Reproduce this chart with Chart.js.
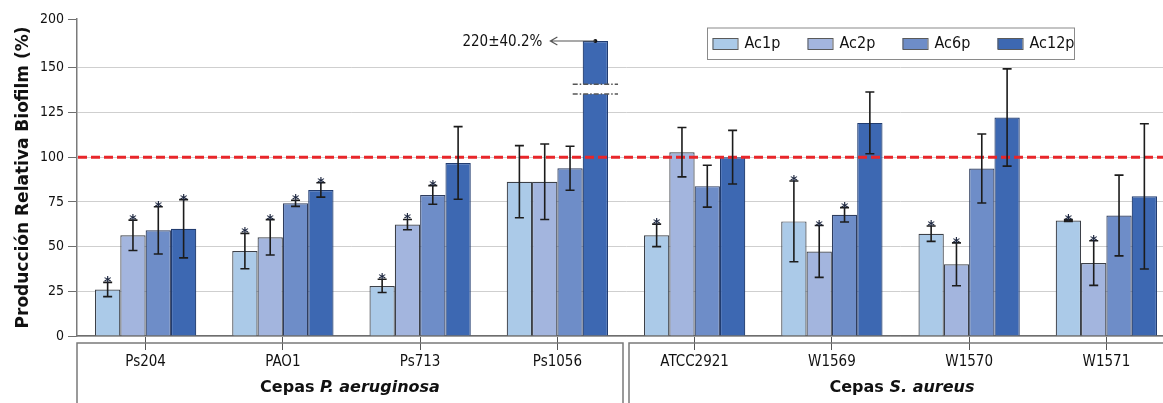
<!DOCTYPE html>
<html>
<head>
<meta charset="utf-8">
<script src="https://cdn.jsdelivr.net/npm/chart.js@4.4.1/dist/chart.umd.min.js"></script>
<style>
  html, body { margin: 0; padding: 0; background: #ffffff; overflow: hidden; }
  #wrap { width: 1190px; height: 403px; }
</style>
</head>
<body>
<div id="wrap"><canvas id="chart" width="1190" height="403"></canvas></div>
<script>
// Strains (x categories)
const categories = ['Ps204', 'PAO1', 'Ps713', 'Ps1056', 'ATCC2921', 'W1569', 'W1570', 'W1571'];

// Relative biofilm production (%) per treatment, with standard deviations
const ac1p     = [26.0, 47.5, 28.0, 86.3, 56.3, 64.1, 57.2, 64.6];
const ac1pErr  = [ 4.0,  9.9,  3.7, 20.2,  6.3, 22.6,  4.3,  0.5];
const ac2p     = [56.3, 55.2, 62.3, 86.3, 102.8, 47.3, 40.1, 40.8];
const ac2pErr  = [ 8.5,  9.9,  2.9, 21.1, 13.8, 14.5, 12.0, 12.5];
const ac6p     = [59.1, 74.2, 78.9, 93.8, 83.8, 67.8, 93.7, 67.4];
const ac6pErr  = [13.2,  1.7,  5.2, 12.3, 11.7,  4.0, 19.3, 22.6];
const ac12p    = [60.0, 81.7, 96.8, 220.0, 100.0, 119.2, 122.2, 78.1];
const ac12pErr = [16.3,  4.0, 20.3, 40.2, 15.0, 17.3, 27.2, 40.6];

// Significance marks (1 = asterisk)
const ac1pSig  = [1, 1, 1, 0, 1, 1, 1, 1];
const ac2pSig  = [1, 1, 1, 0, 0, 1, 1, 1];
const ac6pSig  = [1, 1, 1, 0, 0, 1, 0, 0];
const ac12pSig = [1, 1, 0, 0, 0, 0, 0, 0];

const seriesNames = ['Ac1p', 'Ac2p', 'Ac6p', 'Ac12p'];

// Y axis: linear up to 150, top tick carries the "200" label of the broken axis
const yTickValues = [0, 25, 50, 75, 100, 125, 150];
const yTopShown = 177.3;
const yTopLabel = '200';
const refLevel = 100;

// Bars beyond the axis are cut and drawn up to this height, with a break gap
const brokenBarHeight = 165;
const breakGap = [135.3, 140.8];

// Strain groups on the second axis level
const groupPrefix = ['Cepas ', 'Cepas '];
const groupItalic = ['P. aeruginosa', 'S. aureus'];
const groupFirst  = [0, 4];
const groupLast   = [3, 7];

const values = [ac1p, ac2p, ac6p, ac12p];
const errors = [ac1pErr, ac2pErr, ac6pErr, ac12pErr];
const sigs   = [ac1pSig, ac2pSig, ac6pSig, ac12pSig];

const fills = ['#abcae8', '#a3b5de', '#6e8dc8', '#3d68b2'];
const edges = ['#3c4048', '#3c4048', '#2f3d5e', '#213c70'];

const REG = '"DejaVu Sans Condensed", "DejaVu Sans", sans-serif';
const BOLD = '"DejaVu Sans", sans-serif';

const decor = {
  id: 'decor',
  afterDatasetsDraw(chart) {
    const ctx = chart.ctx;
    const ys = chart.scales.y;
    const area = chart.chartArea;
    ctx.save();

    // broken bars + value annotation
    values.forEach((arr, i) => {
      const meta = chart.getDatasetMeta(i);
      arr.forEach((v, j) => {
        if (v <= yTopShown) return;
        const el = meta.data[j];
        const w = el.width;
        const yA = ys.getPixelForValue(breakGap[1]);
        const yB = ys.getPixelForValue(breakGap[0]);
        ctx.fillStyle = '#ffffff';
        ctx.fillRect(el.x - w / 2 - 1, yA, w + 2, yB - yA);
        ctx.strokeStyle = '#555555';
        ctx.lineWidth = 1.5;
        ctx.setLineDash([5, 2, 1.5, 2]);
        [yA, yB].forEach(yy => {
          ctx.beginPath();
          ctx.moveTo(el.x - w / 2 - 10, yy);
          ctx.lineTo(el.x + w / 2 + 10, yy);
          ctx.stroke();
        });
        ctx.setLineDash([]);

        // pointer to the true value
        const top = el.y;
        ctx.fillStyle = '#111111';
        ctx.beginPath();
        ctx.arc(el.x, top, 2, 0, Math.PI * 2);
        ctx.fill();
        const tipX = el.x - 45;
        ctx.strokeStyle = '#555555';
        ctx.lineWidth = 1.2;
        ctx.beginPath();
        ctx.moveTo(el.x, top);
        ctx.lineTo(tipX, top);
        ctx.moveTo(tipX + 7, top - 4);
        ctx.lineTo(tipX, top);
        ctx.lineTo(tipX + 7, top + 4);
        ctx.stroke();
        ctx.font = '15px ' + REG;
        ctx.textAlign = 'right';
        ctx.textBaseline = 'middle';
        ctx.fillStyle = '#111111';
        ctx.fillText(v + '\u00b1' + errors[i][j].toFixed(1) + '%', tipX - 8, top + 1);
      });
    });

    // reference line at 100 %
    const yRef = ys.getPixelForValue(refLevel);
    ctx.strokeStyle = '#e8262a';
    ctx.lineWidth = 3;
    ctx.setLineDash([9, 4]);
    ctx.beginPath();
    ctx.moveTo(area.left + 1, yRef);
    ctx.lineTo(area.right, yRef);
    ctx.stroke();
    ctx.setLineDash([]);

    // error bars and significance marks
    values.forEach((arr, i) => {
      const meta = chart.getDatasetMeta(i);
      arr.forEach((v, j) => {
        if (v > yTopShown) return;
        const el = meta.data[j];
        const e = errors[i][j];
        const yHi = ys.getPixelForValue(v + e);
        const yLo = ys.getPixelForValue(v - e);
        ctx.strokeStyle = '#1c1c1c';
        ctx.lineWidth = 1.6;
        ctx.beginPath();
        ctx.moveTo(el.x, yHi);
        ctx.lineTo(el.x, yLo);
        ctx.moveTo(el.x - 4.5, yHi);
        ctx.lineTo(el.x + 4.5, yHi);
        ctx.moveTo(el.x - 4.5, yLo);
        ctx.lineTo(el.x + 4.5, yLo);
        ctx.stroke();
        if (sigs[i][j]) {
          ctx.font = 'bold 14px ' + BOLD;
          ctx.textAlign = 'center';
          ctx.textBaseline = 'alphabetic';
          ctx.fillStyle = '#1d2740';
          ctx.fillText('*', el.x, yHi + 4);
        }
      });
    });
    ctx.restore();
  },
  afterDraw(chart) {
    const ctx = chart.ctx;
    const xs = chart.scales.x;
    const area = chart.chartArea;
    ctx.save();

    // legend box
    const lx = 707, ly = 27.5, lw = 367, lh = 31.5;
    ctx.fillStyle = '#ffffff';
    ctx.fillRect(lx, ly, lw, lh);
    ctx.strokeStyle = '#8a8a8a';
    ctx.lineWidth = 1;
    ctx.strokeRect(lx + 0.5, ly + 0.5, lw, lh);
    seriesNames.forEach((name, i) => {
      const sx = lx + 5.5 + i * 95;
      ctx.fillStyle = fills[i];
      ctx.fillRect(sx, 38, 25, 11);
      ctx.strokeStyle = '#5a5a5a';
      ctx.strokeRect(sx + 0.5, 38.5, 25, 11);
      ctx.font = '16px ' + REG;
      ctx.textAlign = 'left';
      ctx.textBaseline = 'middle';
      ctx.fillStyle = '#111111';
      ctx.fillText(name, sx + 32, 44);
    });

    // group boxes and names
    const catW = xs.getPixelForValue(1) - xs.getPixelForValue(0);
    const boxTop = area.bottom + 7;
    ctx.strokeStyle = '#7a7a7a';
    ctx.lineWidth = 1.5;
    groupFirst.forEach((f, g) => {
      let left = xs.getPixelForValue(f) - catW / 2;
      let right = xs.getPixelForValue(groupLast[g]) + catW / 2;
      if (g > 0) left += 3;
      if (g < groupFirst.length - 1) right -= 3;
      ctx.beginPath();
      ctx.moveTo(left, chart.height);
      ctx.lineTo(left, boxTop);
      ctx.lineTo(right, boxTop);
      ctx.lineTo(right, chart.height);
      ctx.stroke();

      const cx = (left + right) / 2;
      ctx.font = 'bold 16px ' + BOLD;
      const w1 = ctx.measureText(groupPrefix[g]).width;
      ctx.font = 'italic bold 16px ' + BOLD;
      const w2 = ctx.measureText(groupItalic[g]).width;
      const sx = cx - (w1 + w2) / 2;
      ctx.textAlign = 'left';
      ctx.textBaseline = 'middle';
      ctx.fillStyle = '#111111';
      ctx.font = 'bold 16px ' + BOLD;
      ctx.fillText(groupPrefix[g], sx, 388);
      ctx.font = 'italic bold 16px ' + BOLD;
      ctx.fillText(groupItalic[g], sx + w1, 388);
    });
    ctx.restore();
  }
};

new Chart(document.getElementById('chart'), {
  type: 'bar',
  data: {
    labels: categories,
    datasets: seriesNames.map((name, i) => ({
      label: name,
      data: values[i].map(v => (v > yTopShown ? brokenBarHeight : v)),
      backgroundColor: fills[i],
      borderColor: edges[i],
      borderWidth: 1.2,
      categoryPercentage: 0.738,
      barPercentage: 1
    }))
  },
  options: {
    responsive: false,
    animation: false,
    layout: { padding: { top: 19, right: 15, left: 0, bottom: 0 } },
    plugins: { legend: { display: false }, tooltip: { enabled: false } },
    scales: {
      x: {
        grid: { offset: false, drawOnChartArea: false, tickLength: 14, color: '#555555', lineWidth: 1 },
        border: { color: '#6e6e6e', width: 1.5 },
        ticks: { font: { family: REG, size: 15 }, color: '#111111', padding: 3, maxRotation: 0, autoSkip: false },
        afterFit(s) { s.height = 67; }
      },
      y: {
        min: 0,
        max: yTopShown,
        afterBuildTicks(s) { s.ticks = yTickValues.concat([yTopShown]).map(v => ({ value: v })); },
        ticks: {
          callback: v => (v === yTopShown ? yTopLabel : String(v)),
          font: { family: REG, size: 14 },
          color: '#111111',
          padding: 4
        },
        grid: {
          color: c => (c.tick && c.tick.value === yTopShown ? 'rgba(0,0,0,0)' : '#cfcfcf'),
          tickColor: '#6e6e6e',
          tickLength: 9,
          lineWidth: 1
        },
        border: { color: '#7a7a7a', width: 1.5 },
        title: {
          display: true,
          text: 'Producción Relativa Biofilm (%)',
          font: { family: BOLD, size: 17, weight: 'bold' },
          color: '#111111',
          padding: { top: 13, bottom: 0 }
        },
        afterFit(s) { s.width = 77; }
      }
    }
  },
  plugins: [decor]
});
</script>
</body>
</html>
